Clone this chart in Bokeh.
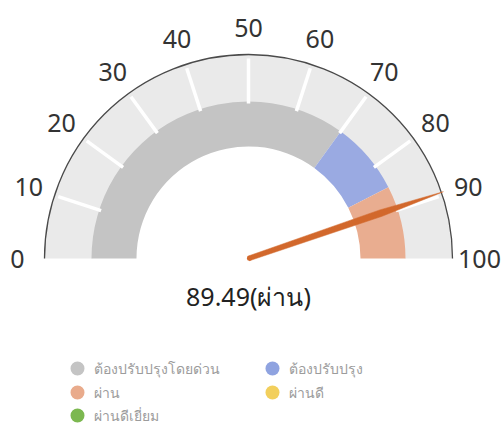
import numpy as np
from bokeh.plotting import figure
from bokeh.models import Range1d, ColumnDataSource
from bokeh.core.properties import value
from bokeh.embed import file_html
from bokeh.resources import INLINE

# ---- data ----
tick_values = [0, 10, 20, 30, 40, 50, 60, 70, 80, 90, 100]
tick_labels = ["0", "10", "20", "30", "40", "50", "60", "70", "80", "90", "100"]
band_names = ["ต้องปรับปรุงโดยด่วน", "ต้องปรับปรุง", "ผ่าน"]
band_start = [0, 70, 85]
band_end = [70, 85, 100]
band_colors = ["#c4c4c4", "#9aaae2", "#e9ad90"]
gauge_value = 89.49
gauge_status = "ผ่าน"
legend_names = ["ต้องปรับปรุงโดยด่วน", "ต้องปรับปรุง", "ผ่าน", "ผ่านดี", "ผ่านดีเยี่ยม"]
legend_colors = ["#c4c4c4", "#8fa3e0", "#e9ab8c", "#f2cf5c", "#7cb850"]

W, H = 502, 426
p = figure(width=W, height=H, output_backend="svg", toolbar_location=None,
           x_range=Range1d(0, W), y_range=Range1d(0, H), min_border=0)
p.axis.visible = False
p.grid.visible = False
p.outline_line_color = None
p.background_fill_color = "white"

cx, cy = 248, 168
R_out, R_mid, R_in = 204, 157, 112


def ang(v):
    return np.pi * (1 - np.asarray(v, dtype=float) / 100.0)


# light track
p.annular_wedge(x=cx, y=cy, inner_radius=R_mid - 1, outer_radius=R_out,
                start_angle=0, end_angle=np.pi, fill_color="#eaeaea", line_color=None)
# colored bands
bsrc = ColumnDataSource(dict(s=ang(band_end), e=ang(band_start), c=band_colors))
p.annular_wedge(x=cx, y=cy, inner_radius=R_in, outer_radius=R_mid, start_angle="s",
                end_angle="e", fill_color="c", line_color=None, source=bsrc)
# outer arc
p.arc(x=cx, y=cy, radius=R_out, start_angle=0, end_angle=np.pi,
      line_color="#4a4a4a", line_width=1.3)
# white ticks
inner_ticks = np.array(tick_values[1:-1])
a = ang(inner_ticks)
p.segment(x0=cx + 155 * np.cos(a), y0=cy + 155 * np.sin(a),
          x1=cx + 200 * np.cos(a), y1=cy + 200 * np.sin(a),
          line_color="white", line_width=3.5)
# tick labels
al = ang(tick_values)
p.text(x=cx + 231 * np.cos(al), y=cy + 231 * np.sin(al), text=tick_labels,
       text_align="center", text_baseline="middle", text_font=value("Noto Sans"),
       text_font_size="25px", text_color="#333333")
# needle
t = ang(gauge_value)
ux, uy = np.cos(t), np.sin(t)
nx, ny = -uy, ux
rs = np.array([0, 140, 206, 140, 0])
ws = np.array([2.4, 3.4, 0, -3.4, -2.4])
p.patch(x=cx + rs * ux + ws * nx, y=cy + rs * uy + ws * ny,
        fill_color="#d2682c", line_color="#d2682c", line_width=0.5, line_join="round")
p.scatter(x=[cx + 1 * ux], y=[cy + 1 * uy], size=5, fill_color="#d2682c", line_color=None)
# value text
p.text(x=[cx], y=[131], text=[f"{gauge_value:.2f}({gauge_status})"], text_align="center",
       text_baseline="middle", text_font=value("Noto Sans"), text_font_size="25px",
       text_color="#222222")
# legend
lx = [77, 272, 77, 272, 77]
ly = [58, 58, 34, 34, 11]
p.scatter(x=lx, y=ly, size=14, fill_color=legend_colors, line_color=None)
p.text(x=[v + 16 for v in lx], y=ly, text=legend_names, text_align="left",
       text_baseline="middle", text_font=value("Noto Sans"), text_font_size="14px",
       text_color="#9c9c9c")

open("out.html", "w").write(file_html(p, INLINE))
